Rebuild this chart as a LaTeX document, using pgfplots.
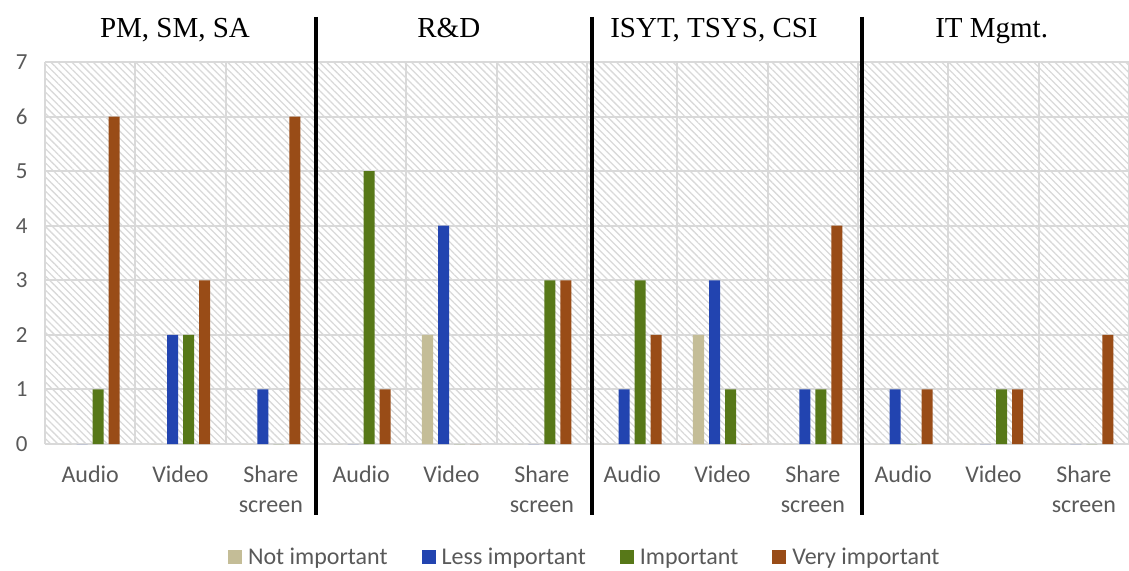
\documentclass[border=0pt]{standalone}
\usepackage{pgfplots}
\pgfplotsset{compat=1.18}
\usepackage{fontspec}
\setmainfont{Carlito}
\newfontfamily\timesfont{Liberation Serif}
\usetikzlibrary{patterns.meta}
\definecolor{cNot}{HTML}{C4BD97}
\definecolor{cLess}{HTML}{2244B0}
\definecolor{cImp}{HTML}{577818}
\definecolor{cVery}{HTML}{994C17}
\definecolor{cGrid}{HTML}{D9D9D9}
\definecolor{cText}{HTML}{595959}
\begin{document}
\begin{tikzpicture}[x=1pt,y=1pt]
\useasboundingbox (0,0) rectangle (1129,570);
\begin{axis}[
  at={(45pt,126pt)}, anchor=south west,
  scale only axis, width=1084pt, height=382pt,
  xmin=-0.5, xmax=11.5, ymin=0, ymax=7,
  ybar=5pt, bar width=11pt,
  clip=false,
  /pgf/number format/assume math mode=true,
  axis line style={draw=none},
  major tick style={draw=none}, minor tick style={draw=none},
  xtick={0,...,11},
  xticklabels={Audio,Video,Share\\screen,Audio,Video,Share\\screen,Audio,Video,Share\\screen,Audio,Video,Share\\screen},
  xticklabel style={align=center, font=\fontsize{24}{30}\selectfont, text=cText, yshift=-14pt},
  minor xtick={-0.5,0.5,...,11.5},
  xminorgrids, ymajorgrids,
  ytick={0,...,7},
  yticklabel style={font=\fontsize{23}{28}\selectfont, text=cText, xshift=-14pt},
  major grid style={draw=cGrid, line width=2pt},
  minor grid style={draw=cGrid, line width=2pt},
  axis background/.style={pattern={Lines[angle=-45,distance=5pt,line width=1.3pt]}, pattern color=black!15},
  legend style={at={(0.497,-0.296)}, anchor=center, legend columns=4, draw=none, fill=none,
    font=\fontsize{24}{28}\selectfont, text=cText, nodes={inner sep=0pt},
    /tikz/every odd column/.append style={column sep=6pt},
    /tikz/every even column/.append style={column sep=34pt}},
  legend image code/.code={\path[#1] (0pt,-7pt) rectangle (14pt,7pt);},
]
\addplot[fill=cNot, draw=none] coordinates {(0,0) (1,0) (2,0) (3,0) (4,2) (5,0) (6,0) (7,2) (8,0) (9,0) (10,0) (11,0)};
\addplot[fill=cLess, draw=none] coordinates {(0,0) (1,2) (2,1) (3,0) (4,4) (5,0) (6,1) (7,3) (8,1) (9,1) (10,0) (11,0)};
\addplot[fill=cImp, draw=none] coordinates {(0,1) (1,2) (2,0) (3,5) (4,0) (5,3) (6,3) (7,1) (8,1) (9,0) (10,1) (11,0)};
\addplot[fill=cVery, draw=none] coordinates {(0,6) (1,3) (2,6) (3,1) (4,0) (5,3) (6,2) (7,0) (8,4) (9,1) (10,1) (11,2)};
\legend{Not important, Less important, Important, Very important}
\draw[line width=4pt] (axis cs:2.5,7.825) -- (axis cs:2.5,-1.3);
\draw[line width=4pt] (axis cs:5.556,7.825) -- (axis cs:5.556,-1.3);
\draw[line width=4pt] (axis cs:8.545,7.825) -- (axis cs:8.545,-1.3);
\node[font=\timesfont\fontsize{29}{35}\selectfont, anchor=base] at (axis cs:0.939,7.458) {PM, SM, SA};
\node[font=\timesfont\fontsize{29}{35}\selectfont, anchor=base] at (axis cs:3.97,7.458) {R\&D};
\node[font=\timesfont\fontsize{29}{35}\selectfont, anchor=base] at (axis cs:6.906,7.458) {ISYT, TSYS, CSI};
\node[font=\timesfont\fontsize{29}{35}\selectfont, anchor=base] at (axis cs:9.98,7.458) {IT Mgmt.};
\end{axis}
\end{tikzpicture}
\end{document}
